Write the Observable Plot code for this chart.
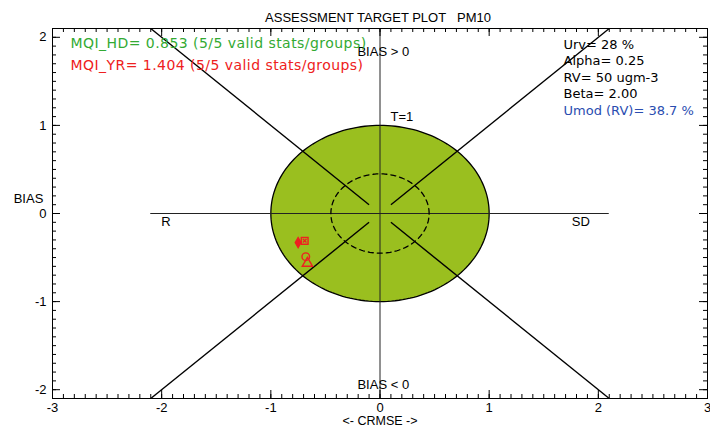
<!DOCTYPE html>
<html>
<head>
<meta charset="utf-8">
<script src="https://cdn.jsdelivr.net/npm/d3@7"></script>
<script src="https://cdn.jsdelivr.net/npm/@observablehq/plot@0.6"></script>
<style>
  html, body { margin: 0; padding: 0; background: #fff; }
</style>
</head>
<body>
<div id="chart"></div>
<script>
// ---- data ----
const titleText = "ASSESSMENT TARGET PLOT\u00a0\u00a0\u00a0PM10";
const xTickLabels = [-3, -2, -1, 0, 1, 2, 3];
const yTickLabels = [-2, -1, 0, 1, 2];

// model points (CRMSE-side, BIAS)
const markerX = [-0.75, -0.69, -0.69, -0.68, -0.665];
const markerY = [-0.33, -0.31, -0.31, -0.49, -0.565];
const markerSymbol = ["diamond", "square", "times", "circle", "triangle"];
const markerFilled = [true, false, false, false, false];

const mqiLines = ["MQI_HD= 0.853 (5/5 valid stats/groups)", "MQI_YR= 1.404 (5/5 valid stats/groups)"];
const paramLines = ["Urv= 28 %", "Alpha= 0.25", "RV= 50 ugm-3", "Beta= 2.00", "Umod (RV)= 38.7 %"];

const targetRadius = 1;
const innerRadius = 0.45;
const diagonals = [
  {x1: 0.1, y1: 0.1, x2: 2.1, y2: 2.1},
  {x1: -0.1, y1: 0.1, x2: -2.1, y2: 2.1},
  {x1: 0.1, y1: -0.1, x2: 2.1, y2: -2.1},
  {x1: -0.1, y1: -0.1, x2: -2.1, y2: -2.1}
];
const quadrantLabels = [
  {x: -1.96, y: -0.1, text: "R"},
  {x: 1.84, y: -0.1, text: "SD"},
  {x: 0.2, y: 1.1, text: "T=1"},
  {x: 0.03, y: 1.83, text: "BIAS > 0"},
  {x: 0.03, y: -1.94, text: "BIAS < 0"}
];

// ---- derived geometry ----
const angles = d3.range(0, 361, 2).map(a => a * Math.PI / 180);
const circle = r => angles.map(a => ({x: r * Math.cos(a), y: r * Math.sin(a)}));
const xMinor = d3.range(-30, 31).map(i => i / 10);
const yMinor = d3.range(-21, 22).map(i => i / 10);

const W = 710, H = 427, mL = 52, mR = 3, mT = 28, mB = 29;
const fw = W - mL - mR, fh = H - mT - mB;
const majLen = 8, minLen = 4;

const RED = "#ee2020", GREEN = "#33aa33", BLUE = "#2a4db0";
const TF = "Liberation Sans";
const AF = "DejaVu Sans";

const markerMarks = markerX.map((x, i) => Plot.dot([{x, y: markerY[i]}], {
  x: "x", y: "y", symbol: markerSymbol[i],
  r: markerSymbol[i] === "times" ? 1.8 : markerSymbol[i] === "diamond" ? 3 : 3.8,
  fill: markerFilled[i] ? RED : "none",
  stroke: RED, strokeWidth: 1.4
}));

const txt = (extra) => Object.assign({text: d => d, fontFamily: TF, fontSize: 13, fill: "black", lineAnchor: "middle"}, extra);

const chart = Plot.plot({
  width: W, height: H,
  marginLeft: mL, marginRight: mR, marginTop: mT, marginBottom: mB,
  x: {domain: [-3, 3], axis: null},
  y: {domain: [-2.1, 2.1], axis: null},
  style: {background: "white", fontFamily: TF, fontSize: "13px", overflow: "visible"},
  marks: [
    // target circle fill
    Plot.line(circle(targetRadius), {x: "x", y: "y", fill: "#9abf1f", stroke: "black", strokeWidth: 1.3}),
    // zero lines
    Plot.ruleX([0], {stroke: "#222", strokeWidth: 1}),
    Plot.ruleY([0], {x1: -2.1, x2: 2.1, stroke: "#222", strokeWidth: 1}),
    // diagonals
    Plot.link(diagonals, {x1: "x1", y1: "y1", x2: "x2", y2: "y2", stroke: "black", strokeWidth: 1.4}),
    // inner dashed circle
    Plot.line(circle(innerRadius), {x: "x", y: "y", stroke: "black", strokeWidth: 1.3, strokeDasharray: "5,4"}),
    // frame
    Plot.frame({stroke: "black", strokeWidth: 1}),
    // ticks: x bottom/top
    Plot.tickX(xMinor, {x: d => d, insetTop: fh - minLen, stroke: "black"}),
    Plot.tickX(xTickLabels, {x: d => d, insetTop: fh - majLen, stroke: "black"}),
    Plot.tickX(xMinor, {x: d => d, insetBottom: fh - minLen, stroke: "black"}),
    Plot.tickX(xTickLabels, {x: d => d, insetBottom: fh - majLen, stroke: "black"}),
    // ticks: y left/right
    Plot.tickY(yMinor, {y: d => d, insetRight: fw - minLen, stroke: "black"}),
    Plot.tickY(yTickLabels, {y: d => d, insetRight: fw - majLen, stroke: "black"}),
    Plot.tickY(yMinor, {y: d => d, insetLeft: fw - minLen, stroke: "black"}),
    Plot.tickY(yTickLabels, {y: d => d, insetLeft: fw - majLen, stroke: "black"}),
    // tick labels
    Plot.text(xTickLabels, txt({x: d => d, frameAnchor: "bottom", dy: 9.5, textAnchor: "middle", text: d => String(d)})),
    Plot.text(yTickLabels, txt({y: d => d, frameAnchor: "left", dx: -6, textAnchor: "end", text: d => String(d)})),
    // axis titles
    Plot.text(["<- CRMSE ->"], txt({frameAnchor: "bottom", dy: 22, textAnchor: "middle", fontSize: 12.5})),
    Plot.text(["BIAS"], txt({frameAnchor: "left", dx: -24, dy: -15, textAnchor: "middle"})),
    // title
    Plot.text([titleText], txt({frameAnchor: "top", dx: -2, dy: -11, textAnchor: "middle"})),
    // quadrant labels
    Plot.text(quadrantLabels, {x: "x", y: "y", text: "text", fontFamily: TF, fontSize: 13, fill: "black"}),
    // annotation blocks
    ...mqiLines.map((t, i) => Plot.text([t], txt({frameAnchor: "top-left", dx: 18, dy: 15.5 + i * 21.7, textAnchor: "start", fontFamily: AF, fontSize: 14, fill: i === 0 ? GREEN : RED}))),
    ...paramLines.map((t, i) => Plot.text([t], txt({frameAnchor: "top-left", dx: 511, dy: 16 + i * 16.5, textAnchor: "start", fontFamily: AF, fontSize: 13, fill: i === paramLines.length - 1 ? BLUE : "black"}))),
    // model markers
    ...markerMarks
  ]
});
// widen the MQI annotation lettering a little, as in the reference's vector font
d3.select(chart).selectAll("text").filter(function() { return /^MQI/.test(this.textContent); }).style("letter-spacing", "0.45px");
document.getElementById("chart").appendChild(chart);
</script>
</body>
</html>
